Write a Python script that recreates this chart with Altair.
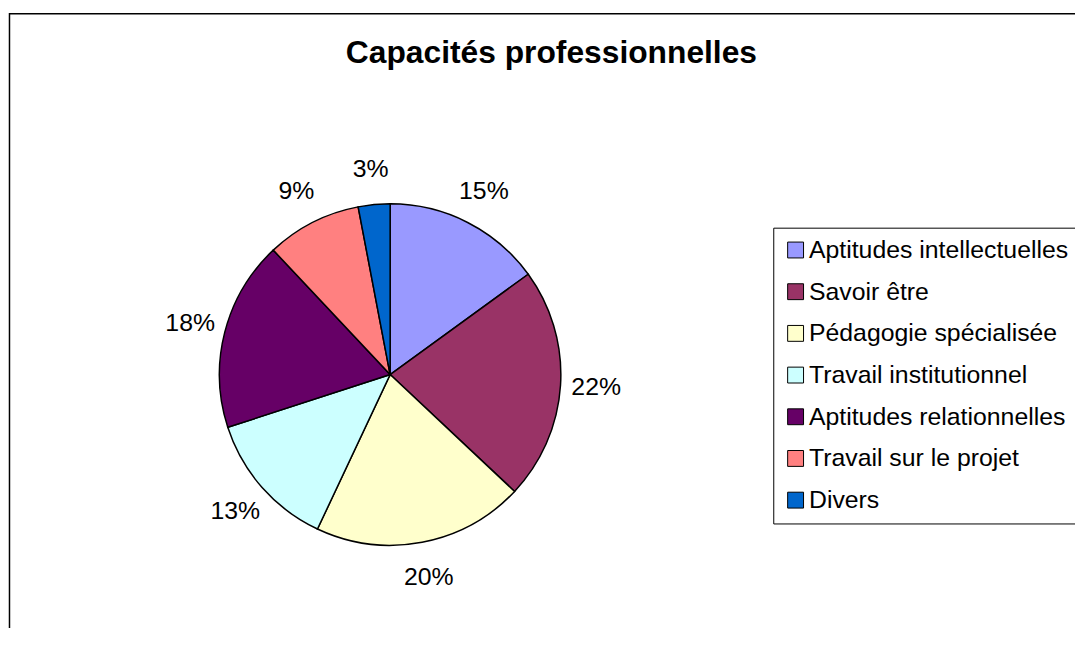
import altair as alt
import pandas as pd

title_text = "Capacités professionnelles"
categories = ["Aptitudes intellectuelles", "Savoir être", "Pédagogie spécialisée",
              "Travail institutionnel", "Aptitudes relationnelles",
              "Travail sur le projet", "Divers"]
values = [15, 22, 20, 13, 18, 9, 3]
colors = ["#9999FF", "#993366", "#FFFFCC", "#CCFFFF", "#660066", "#FF8080", "#0066CC"]
labels = [f"{v}%" for v in values]

df = pd.DataFrame({"category": categories, "value": values, "label": labels,
                   "idx": list(range(len(categories)))})

W, H = 1075, 620
CX, CY = 385, 367
R = 172
FONT = "Liberation Sans"

base = alt.Chart(df).encode(
    theta=alt.Theta("value:Q", stack=True),
    order=alt.Order("idx:Q", sort="ascending"),
    x=alt.value(CX),
    y=alt.value(CY),
)

arcs = base.mark_arc(outerRadius=R, stroke="black", strokeWidth=1.5).encode(
    color=alt.Color(
        "category:N",
        sort=categories,
        scale=alt.Scale(domain=categories, range=colors),
        legend=alt.Legend(
            title=None, orient="none", legendX=771, legendY=219,
            symbolType="square", symbolSize=256, symbolStrokeColor="black",
            symbolStrokeWidth=1, labelFont=FONT, labelFontSize=25,
            labelColor="black", labelOffset=1, labelLimit=600, rowPadding=16,
            padding=10, strokeColor="black", fillColor="white",
        ),
    )
)

texts = base.mark_text(radius=208, fontSize=25, font=FONT, align="center",
                       baseline="middle", color="black").encode(text="label:N")

frame = alt.Chart(pd.DataFrame({"a": [0]})).mark_rect(
    fill="white", stroke="black", strokeWidth=1.5
).encode(x=alt.value(1.5), y=alt.value(3.5), x2=alt.value(W + 60), y2=alt.value(H + 60))

chart = alt.layer(frame, arcs, texts).properties(
    width=W, height=H,
    autosize=alt.AutoSizeParams(type="none"),
    padding=0,
    title=alt.TitleParams(text=title_text, font=FONT, fontSize=32, fontWeight="bold",
                          color="black", anchor="middle", baseline="alphabetic",
                          dy=89, dx=10),
).configure_view(strokeWidth=0)

chart.save("out.html", embed_options={"renderer": "svg", "actions": False})
